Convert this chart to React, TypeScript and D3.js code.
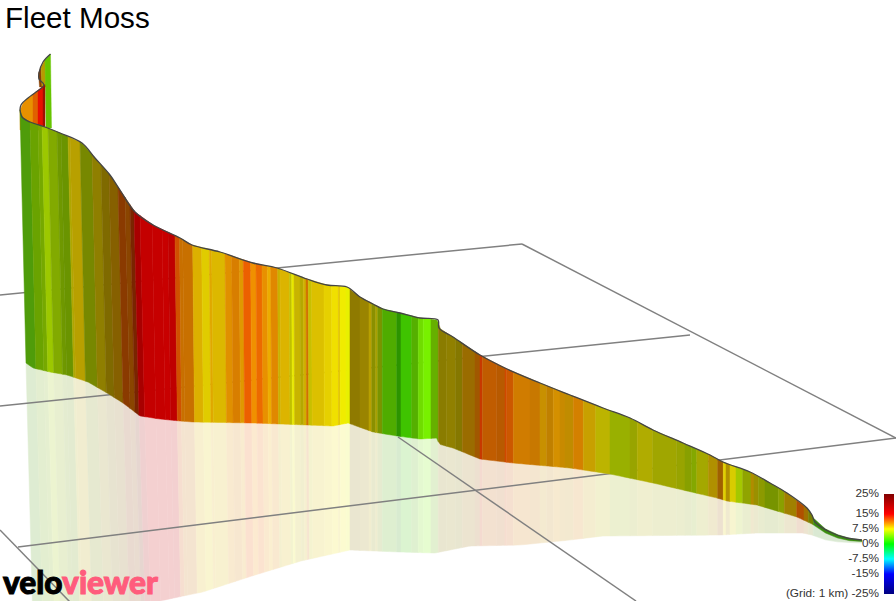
import { useMemo } from "react";
import * as d3 from "d3";

const width = 896;
const height = 601;

// Projected profile (x along the route, y on screen)
const topStations = [20, 22, 30, 45, 60, 82, 95, 110, 120, 135, 153, 180, 192, 220, 253, 277, 307, 327, 347, 360, 373, 383, 400, 420, 438, 439, 453, 480, 507, 540, 570, 603, 630, 653, 683, 710, 723, 750, 770, 787, 807, 812, 815, 830, 847, 862];
const topElevation = [110, 117, 122, 127, 133, 143, 158, 175, 190, 212, 225, 238, 245, 252, 263, 268, 279, 285, 287, 297, 304, 309, 313, 318, 320, 328, 337, 355, 369, 383, 395, 408, 418, 430, 443, 455, 462, 472, 483, 493, 508, 515, 522, 532, 538, 540];

const baseStations = [26, 33, 50, 67, 88, 107, 123, 140, 160, 180, 193, 253, 307, 333, 348, 373, 397, 420, 438, 438.5, 453, 480, 513, 570, 610, 653, 717, 727, 757, 797, 812, 830, 847, 862];
const baseElevation = [363, 368, 372, 375, 382, 393, 403, 416, 419, 421, 422, 423, 425, 426, 423, 432, 436, 439, 438, 444, 448, 459, 463, 468, 474, 483, 498, 501, 505, 517, 524, 536, 540.5, 541.5];

const reflectionStations = [26, 160, 200, 250, 300, 350, 400, 435, 470, 520, 570, 603, 720, 757, 803, 812, 830, 862];
const reflectionFloor = [625, 600, 592, 576, 561, 550, 552, 553, 546, 545, 540, 536, 535, 533, 533, 535, 541.5, 543];

// Lean of the stripes: top x -> base x, and the extra lean down to the reflection floor
const leanFrom = [20, 135, 180, 350, 862];
const leanBase = [26, 140, 182, 350, 862];
const leanFloor = [33, 146, 185, 350, 862];

const stripeEdges = [20, 30, 38, 42, 48, 57, 61, 68, 70, 80, 92, 101, 109, 118, 125, 130, 134, 140, 152, 162, 168, 175, 179.5,
  182.7, 192.7, 201.7, 209.3, 211.7, 225, 231.7, 239.3, 243.3, 250.7, 256, 262, 267.3, 270.7, 277.7, 280, 289.3, 291.7, 294, 300, 303.3, 306, 308.3, 311.7, 324, 331.7, 338.3, 340, 346, 350,
  360, 369, 371.7, 375.7, 377.7, 382.3, 396.7, 401, 411.7, 418.3, 423.3, 431, 438.3, 446.7, 455.7, 462.3, 475, 480, 482.3, 496.7, 505, 506.7, 513.3,
  530, 540, 546.7, 553.3, 560, 565, 573.3, 583.3, 595.7, 610, 630, 637.3, 652.7, 676.7, 685, 691.7, 696.7, 708.3, 717.7, 723.3, 726, 730, 736, 742.7, 751, 754, 758.3, 765, 778.3, 784.3, 796.7, 804, 808.3, 813.3, 862];
const stripeColors = ["#4f9c0a", "#6aa300", "#76a900", "#9cc800", "#82aa00", "#6f9800", "#6a9400", "#b0a800", "#b8a000", "#778800", "#8f7f00", "#7f6a00", "#866000", "#8a3a00", "#8a4500", "#7a2500", "#a80000", "#c40000", "#c60000", "#c80000", "#bf0000", "#d05000", "#c87000",
  "#c87000", "#dcb000", "#e0cc00", "#e0a800", "#dcb800", "#e09000", "#d87e00", "#e09800", "#ec6000", "#f09000", "#ec6a00", "#e89000", "#ecac00", "#e08800", "#c8b000", "#dcb400", "#c0c000", "#e8e800", "#c8b400", "#b4a800", "#d0b000", "#d07000", "#c8c000", "#dcc000", "#e6d000", "#f0e000", "#e0c000", "#f0ec00", "#e8f000",
  "#8f7a00", "#9a8400", "#b8a000", "#8a9000", "#a8a000", "#7a9400", "#4fac00", "#2c9400", "#3fc400", "#55b000", "#70dc00", "#78f000", "#66b000", "#8a7c00", "#908000", "#857800", "#9a6c00", "#a05800", "#c83800", "#c05c00", "#b85a00", "#d04800", "#cc5800",
  "#d07c00", "#c87800", "#c89000", "#c08000", "#d49000", "#c88a00", "#c08c00", "#d48000", "#c8a000", "#bcb400", "#99b000", "#98a400", "#b0ac00", "#a0a600", "#98a400", "#88a000", "#84a800", "#a4a800", "#b09000", "#a06000", "#e0d000", "#b09000", "#d8cc00", "#a4c800", "#90a400", "#b08c00", "#9a9000", "#8c9a00", "#779400", "#8aa000", "#a08000", "#b05000", "#a07000", "#788000", "#3a8c10"];

// The two pieces of road that fold behind the start of the wall
const curlTopX = [38.5, 43, 50.5];
const curlTopY = [73, 62, 54];
const curlEdges = [38.5, 41, 45, 50.5];
const curlColors = ["#8a4000", "#b89a00", "#66c400"];
const curlFloor = [87, 87, 128];

const foldTopX = [20, 21, 28, 36, 44.5];
const foldTopY = [110, 105, 98, 92, 85];
const foldEdges = [20, 33, 38, 43, 45];
const foldColors = ["#e89000", "#e06000", "#e81000", "#a01000"];

const outlineX = [50.5, 43, 39, 39, 44, 36, 28, 21, 20];
const outlineY = [54, 62, 73, 79, 85, 92, 98, 105, 110];

const gridLines = [
  [0, 295, 522, 244],
  [522, 244, 896, 438],
  [0, 406, 690, 335],
  [18, 547, 896, 438],
  [398, 437, 636, 601],
  [0, 530, 70, 602],
];

const legendTicks = [25, 15, 7.5, 0, -7.5, -15, -25];
const legendColors = ["#800000", "#ff0000", "#ffff00", "#00ff00", "#00ffff", "#0000ff", "#000080"];
const legendLabels = ["25%", "15%", "7.5%", "0%", "-7.5%", "-15%", "(Grid: 1 km) -25%"];

const SANS = "'Liberation Sans', Arial, sans-serif";

const pairs = (edges: number[]) => d3.pairs(edges);

function stripePath(s0: number, s1: number, topY: (s: number) => number, baseX: (s: number) => number, baseY: (s: number) => number) {
  const steps = d3.range(0, 1.001, 0.25).map(t => s0 + (s1 - s0) * t);
  const upper = steps.map(s => [s, topY(s)] as [number, number]);
  const lower = steps.slice().reverse().map(s => [baseX(s), baseY(s)] as [number, number]);
  return d3.line()([...upper, ...lower]) + "Z";
}

export default function App() {
  const scene = useMemo(() => {
    const topY = d3.scaleLinear().domain(topStations).range(topElevation);
    const baseAt = d3.scaleLinear().domain(baseStations).range(baseElevation);
    const floorAt = d3.scaleLinear().domain(reflectionStations).range(reflectionFloor);
    const toBaseX = d3.scaleLinear().domain(leanFrom).range(leanBase);
    const toFloorX = d3.scaleLinear().domain(leanFrom).range(leanFloor);

    const wall = pairs(stripeEdges).map(([a, b], i) => ({
      d: stripePath(a, b, topY, toBaseX, s => baseAt(toBaseX(s))),
      color: stripeColors[i],
    }));
    const reflection = pairs(stripeEdges).map(([a, b], i) => {
      const steps = d3.range(0, 1.001, 0.25).map(t => a + (b - a) * t);
      const upper = steps.map(s => [toBaseX(s), baseAt(toBaseX(s))] as [number, number]);
      const lower = steps.slice().reverse().map(s => [toFloorX(s), floorAt(toBaseX(s))] as [number, number]);
      return { d: d3.line()([...upper, ...lower]) + "Z", color: stripeColors[i] };
    });

    const curlTop = d3.scaleLinear().domain(curlTopX).range(curlTopY);
    const curl = pairs(curlEdges).map(([a, b], i) => ({
      d: d3.line()([[a, curlTop(a)], [b, curlTop(b)], [b + 1, curlFloor[i]], [a + 1, curlFloor[i]]]) + "Z",
      color: curlColors[i],
    }));
    const foldTop = d3.scaleLinear().domain(foldTopX).range(foldTopY);
    const fold = pairs(foldEdges).map(([a, b], i) => ({
      d: stripePath(a, b, foldTop, s => s, () => 130),
      color: foldColors[i],
    }));

    const outlinePoints: [number, number][] = [
      ...outlineX.map((x, i) => [x, outlineY[i]] as [number, number]),
      ...topStations.map((x, i) => [x, topElevation[i]] as [number, number]),
    ];
    const outline = d3.line().curve(d3.curveCatmullRom.alpha(0.5))(outlinePoints) as string;

    const legendY = d3.scaleLinear().domain([25, -25]).range([494, 594]);
    return { wall, reflection, curl, fold, outline, legendY };
  }, []);

  const { wall, reflection, curl, fold, outline, legendY } = scene;

  return (
    <svg
      width={width}
      height={height}
      viewBox={`0 0 ${width} ${height}`}
      style={{ position: "absolute", left: 0, top: 0, background: "#fff", display: "block" }}
    >
      <defs>
        <linearGradient id="legendRamp" x1="0" y1="0" x2="0" y2="1">
          {legendTicks.map((t, i) => (
            <stop key={t} offset={(legendY(t) - 494) / 100} stopColor={legendColors[i]} />
          ))}
        </linearGradient>
      </defs>

      {/* faded reflection on the floor */}
      <g opacity={0.18}>
        {reflection.map((s, i) => (
          <path key={i} d={s.d} fill={s.color} stroke={s.color} strokeWidth={0.5} />
        ))}
      </g>

      {/* 1 km grid */}
      <g stroke="#808080" strokeWidth={1.5} fill="none">
        {gridLines.map(([x1, y1, x2, y2], i) => (
          <line key={i} x1={x1} y1={y1} x2={x2} y2={y2} />
        ))}
      </g>

      {curl.map((s, i) => (
        <path key={i} d={s.d} fill={s.color} stroke={s.color} strokeWidth={0.4} />
      ))}
      {fold.map((s, i) => (
        <path key={i} d={s.d} fill={s.color} stroke={s.color} strokeWidth={0.4} />
      ))}
      {wall.map((s, i) => (
        <path key={i} d={s.d} fill={s.color} stroke={s.color} strokeWidth={0.5} />
      ))}

      <text x={5} y={27.5} fontFamily={SANS} fontSize={29.6} fill="#000">Fleet Moss</text>

      {/* legend */}
      <rect x={884} y={494} width={10} height={100} fill="url(#legendRamp)" />
      <g fontFamily={SANS} fontSize={11.8} fill="#333" textAnchor="end">
        {legendTicks.map((t, i) => (
          <text key={t} x={879} y={legendY(t) + 3}>{legendLabels[i]}</text>
        ))}
      </g>

      <path d={outline} fill="none" stroke="#444" strokeWidth={1.3} strokeLinejoin="round" />

      {/* logo */}
      <text
        x={3}
        y={594}
        fontFamily="Lato, 'Open Sans', sans-serif"
        fontWeight={900}
        fontSize={32}
        fill="#000"
        stroke="#000"
        strokeWidth={1}
        textLength={155}
        lengthAdjust="spacingAndGlyphs"
      >
        velo
        <tspan fill="#ff5c7c" stroke="#ff5c7c">viewer</tspan>
      </text>
    </svg>
  );
}
